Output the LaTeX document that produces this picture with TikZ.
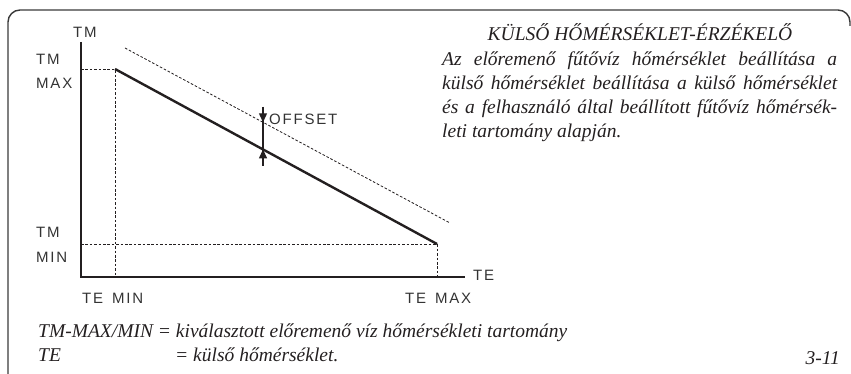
\documentclass[tikz,border=0pt]{standalone}
\usepackage{fontspec}
\setmainfont{Liberation Serif}
\newfontfamily\lblfont[LetterSpace=12]{Liberation Sans}
\usetikzlibrary{arrows.meta}
\definecolor{KSInk}{HTML}{231F20}
\definecolor{KSFrame}{HTML}{3A3A3A}
\definecolor{KSLabel}{HTML}{333333}
\tikzset{
  axislbl/.style={anchor=west,inner sep=0pt,text=KSLabel,font=\lblfont\fontsize{15}{15}\selectfont},
  itxt/.style={inner sep=0pt,text=KSInk,font=\itshape\fontsize{19.5}{23.7}\selectfont},
  guide/.style={KSInk,line width=0.8pt,dash pattern=on 2.6pt off 1.8pt},
  thick line/.style={KSInk,line width=2.4pt},
  offtip/.style={-{Triangle[width=8pt,length=9pt]},KSInk,line width=1.2pt}
}
\begin{document}
\begin{tikzpicture}[x=1pt,y=1pt]
\path[use as bounding box] (0,0) rectangle (851,374);
\draw[KSFrame,line width=1.4pt,rounded corners=12pt] (8,0) |- (850,364) -- (850,348);
\coordinate (orig) at (81,97);
\coordinate (ytop) at (81,332);
\coordinate (xend) at (465,97);
\coordinate (tmax) at (115,305);
\coordinate (tmin) at (437,130);
\coordinate (offA) at (125,326);
\coordinate (offB) at (450,151);
\coordinate (arrtop) at (263,267);
\coordinate (arrbot) at (263,208);
\coordinate (tipdn) at (263,251.7);
\coordinate (tipup) at (263,224.6);
\draw[guide] (orig |- tmax) -- (tmax) -- (tmax |- orig);
\draw[guide] (orig |- tmin) -- (tmin) -- (tmin |- orig);
\draw[guide] (offA) -- (offB);
\draw[thick line,line join=miter] (ytop) -- (orig) -- (xend);
\draw[thick line] (tmax) -- (tmin);
\draw[KSInk,line width=1.2pt] (arrtop) -- (arrbot);
\draw[offtip] (arrtop) -- (tipdn);
\draw[offtip] (arrbot) -- (tipup);
\node[axislbl] (lbltm) at (73,342) {TM};
\node[axislbl] (lblmax) at (36,315) {TM};
\node[axislbl] (lblmax2) at (36,291) {MAX};
\node[axislbl] (lblmin) at (36,142) {TM};
\node[axislbl] (lblmin2) at (36,117) {MIN};
\node[axislbl] (lblte) at (473,99) {TE};
\node[axislbl] (lbltemin) at (82,76) {TE\hspace{3pt} MIN};
\node[axislbl] (lbltemax) at (405,76) {TE\hspace{3pt} MAX};
\node[axislbl] (lbloff) at (269,255) {OFFSET};
\node[itxt,anchor=base] (title) at (640,333) {KÜLSŐ HŐMÉRSÉKLET-ÉRZÉKELŐ};
\node[itxt,anchor=base west,text width=395pt,align=justify] (desc) at (442,308)
  {Az előremenő fűtővíz hőmérséklet beállítása a\linebreak
   külső hőmérséklet beállítása a külső hőmérséklet\linebreak
   és a felhasználó által beállított fűtővíz hőmérsék-\linebreak
   leti tartomány alapján.};
\node[itxt,anchor=base west] (legtm) at (38,36) {TM-MAX/MIN = kiválasztott előremenő víz hőmérsékleti tartomány};
\node[itxt,anchor=base west] (legte) at (38,12) {TE};
\node[itxt,anchor=base west] (legtex) at (175,12) {= külső hőmérséklet.};
\node[itxt,anchor=base east] (figno) at (840,9) {3-11};
\end{tikzpicture}
\end{document}
